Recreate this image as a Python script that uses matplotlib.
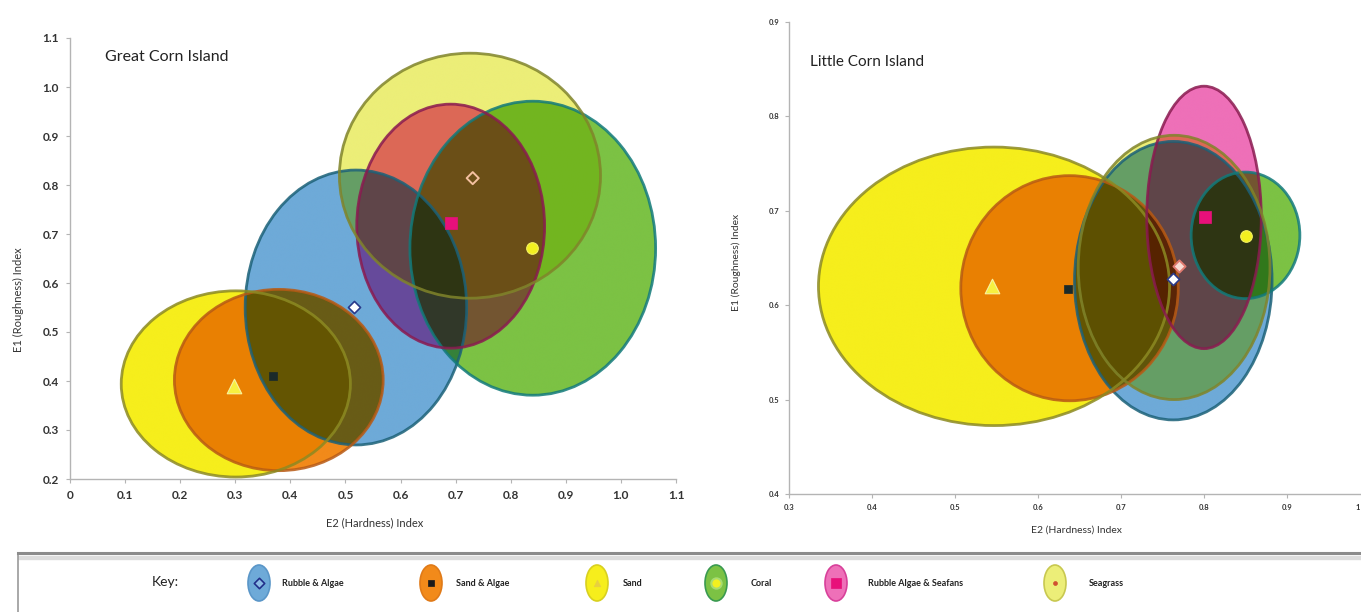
import numpy as np
import matplotlib
matplotlib.use("Agg")
import matplotlib.pyplot as plt
from matplotlib.patches import Ellipse, Rectangle
from matplotlib.colors import to_rgb

plt.rcParams["font.family"] = ["Lato", "DejaVu Sans"]

habitats = ["Rubble & Algae", "Sand & Algae", "Sand", "Coral",
            "Rubble Algae & Seafans", "Seagrass"]

# Great Corn Island: habitat centroids (E2, E1) and ellipse centre / size
great_pt_e2 = [0.515, 0.369, 0.298, 0.839, 0.691, 0.731]
great_pt_e1 = [0.551, 0.410, 0.390, 0.671, 0.722, 0.814]
great_cx = [0.519, 0.379, 0.301, 0.840, 0.691, 0.726]
great_cy = [0.550, 0.402, 0.394, 0.671, 0.716, 0.819]
great_w = [0.402, 0.379, 0.416, 0.446, 0.341, 0.474]
great_h = [0.561, 0.370, 0.380, 0.600, 0.498, 0.500]

# Little Corn Island
little_pt_e2 = [0.763, 0.636, 0.544, 0.850, 0.801, 0.770]
little_pt_e1 = [0.628, 0.617, 0.620, 0.673, 0.693, 0.641]
little_cx = [0.763, 0.638, 0.547, 0.850, 0.800, 0.764]
little_cy = [0.626, 0.618, 0.620, 0.674, 0.693, 0.640]
little_w = [0.238, 0.262, 0.423, 0.131, 0.138, 0.231]
little_h = [0.295, 0.2385, 0.295, 0.134, 0.278, 0.280]

great_xticks = [0, 0.1, 0.2, 0.3, 0.4, 0.5, 0.6, 0.7, 0.8, 0.9, 1.0, 1.1]
great_xticklabels = ["0", "0.1", "0.2", "0.3", "0.4", "0.5", "0.6", "0.7",
                     "0.8", "0.9", "1.0", "1.1"]
great_yticks = [0.2, 0.3, 0.4, 0.5, 0.6, 0.7, 0.8, 0.9, 1.0, 1.1]
great_yticklabels = ["0.2", "0.3", "0.4", "0.5", "0.6", "0.7", "0.8", "0.9",
                     "1.0", "1.1"]
little_xticks = [0.3, 0.4, 0.5, 0.6, 0.7, 0.8, 0.9, 1.0]
little_xticklabels = ["0.3", "0.4", "0.5", "0.6", "0.7", "0.8", "0.9", "1"]
little_yticks = [0.4, 0.5, 0.6, 0.7, 0.8, 0.9]
little_yticklabels = ["0.4", "0.5", "0.6", "0.7", "0.8", "0.9"]

fill_colors = ["#6eaad8", "#f28a1a", "#f6ee1c", "#7cc244", "#ee70b8", "#ecee78"]
edge_colors = ["#1b6178", "#b85a14", "#8c8a22", "#127a7a", "#8a1a50", "#80842a"]
key_edge_colors = ["#5a96c8", "#e07a18", "#d8d020", "#3a9a50", "#d8409a", "#c8c850"]

marker_style = [
    dict(marker="D", s=38, facecolor="white", edgecolor="#2a3a8a", linewidths=1.2),
    dict(marker="s", s=30, facecolor="#1a2a2a", edgecolor="#1a2a2a", linewidths=0.5),
    dict(marker="^", s=110, facecolor="#f7f040", edgecolor="#f7f3a0", linewidths=0.8),
    dict(marker="o", s=70, facecolor="#f2f020", edgecolor="#f2f060", linewidths=0.8),
    dict(marker="s", s=70, facecolor="#e8107a", edgecolor="#e8107a", linewidths=0.5),
    dict(marker="D", s=38, facecolor="none", edgecolor="#f4c0a0", linewidths=1.4),
]

W, H = 1361, 612
fig = plt.figure(figsize=(W / 100, H / 100), dpi=100)


def px_box(left, top, right, bottom):
    return [left / W, 1 - bottom / H, (right - left) / W, (bottom - top) / H]


def draw_panel(ax, xlim, ylim, cx, cy, w, h, pt_x, pt_y, seagrass_face):
    # overlapping ellipses blend like translucent film (multiplicative)
    nx, ny = 1600, 1100
    xs = np.linspace(xlim[0], xlim[1], nx)
    ys = np.linspace(ylim[0], ylim[1], ny)
    X, Y = np.meshgrid(xs, ys)
    rgb = np.ones((ny, nx, 3))
    for x0, y0, ww, hh, c in zip(cx, cy, w, h, fill_colors):
        inside = ((X - x0) / (ww / 2)) ** 2 + ((Y - y0) / (hh / 2)) ** 2 <= 1
        rgb[inside] *= np.array(to_rgb(c))
    ax.imshow(rgb, extent=(xlim[0], xlim[1], ylim[0], ylim[1]), origin="lower",
              aspect="auto", interpolation="antialiased", zorder=1)
    for x0, y0, ww, hh, ec in zip(cx, cy, w, h, edge_colors):
        ax.add_patch(Ellipse((x0, y0), ww, hh, fill=False, edgecolor=ec,
                             linewidth=2.0, alpha=0.85, zorder=3))
    for i, (px_, py_) in enumerate(zip(pt_x, pt_y)):
        st = dict(marker_style[i])
        if i == 5 and seagrass_face is not None:
            st["facecolor"] = seagrass_face
            st["edgecolor"] = "#e07a70"
        ax.scatter([px_], [py_], zorder=5, **st)
    ax.set_xlim(*xlim)
    ax.set_ylim(*ylim)
    for side in ("top", "right"):
        ax.spines[side].set_visible(False)
    for side in ("left", "bottom"):
        ax.spines[side].set_color("#b4b4b4")
        ax.spines[side].set_linewidth(1.0)
    ax.tick_params(colors="#b4b4b4", length=3, width=0.8, labelcolor="#333333")
    ax.patch.set_alpha(0)


ax_l = fig.add_axes(px_box(70, 38, 676, 479))
draw_panel(ax_l, (0, 1.1), (0.2, 1.1), great_cx, great_cy, great_w, great_h,
           great_pt_e2, great_pt_e1, None)
ax_l.set_xticks(great_xticks, great_xticklabels, fontsize=8.5, fontweight="bold")
ax_l.set_yticks(great_yticks, great_yticklabels, fontsize=8.5, fontweight="bold")
ax_l.tick_params(axis="x", pad=5)
ax_l.tick_params(axis="y", pad=5)

ax_r = fig.add_axes(px_box(789, 22, 789 + 7 * 83, 494))
draw_panel(ax_r, (0.3, 1.0), (0.4, 0.9), little_cx, little_cy, little_w, little_h,
           little_pt_e2, little_pt_e1, "#f8dcd4")
# the last tick falls just past the figure's edge, so its label is set
# separately at the edge
ax_r.set_xticks(little_xticks, little_xticklabels[:-1] + [""], fontsize=5.5,
                fontweight="bold")
ax_r.set_yticks(little_yticks, little_yticklabels, fontsize=5.5, fontweight="bold")
ax_r.tick_params(axis="x", pad=4)
ax_r.tick_params(axis="y", pad=4)
fig.text((W - 1) / W, 1 - 507 / H, little_xticklabels[-1], fontsize=5.5,
         fontweight="bold", ha="right", va="center", color="#333333")

# panel titles and axis titles
fig.text(105 / W, 1 - 57 / H, "Great Corn Island", fontsize=11.5,
         ha="left", va="center", color="#222222")
fig.text(810 / W, 1 - 62 / H, "Little Corn Island", fontsize=11,
         ha="left", va="center", color="#222222")
fig.text(375 / W, 1 - 523 / H, "E2 (Hardness) Index", fontsize=8,
         ha="center", va="center", color="#333333")
fig.text(18 / W, 1 - 300 / H, "E1 (Roughness) Index", fontsize=8,
         ha="center", va="center", rotation=90, color="#333333")
fig.text(1076 / W, 1 - 530 / H, "E2 (Hardness) Index", fontsize=7.5,
         ha="center", va="center", color="#333333")
fig.text(736 / W, 1 - 262 / H, "E1 (Roughness) Index", fontsize=7.5,
         ha="center", va="center", rotation=90, color="#333333")

# key strip along the bottom
ax_k = fig.add_axes(px_box(18, 553, W, H))
ax_k.set_xlim(18, W)
ax_k.set_ylim(H, 553)
ax_k.set_xticks([])
ax_k.set_yticks([])
for side in ("right", "bottom"):
    ax_k.spines[side].set_visible(False)
ax_k.spines["top"].set_color("#8c8c8c")
ax_k.spines["top"].set_linewidth(2.2)
ax_k.spines["left"].set_color("#9a9a9a")
ax_k.spines["left"].set_linewidth(1.2)
ax_k.add_patch(Rectangle((18, 555.5), W - 18, 3, color="#dddddd", zorder=0))

ax_k.text(165, 582, "Key:", fontsize=10, ha="center", va="center", color="#222222")
icon_x = [259, 431, 597, 716, 836, 1055]
text_x = [282, 456, 623, 751, 868, 1089]
legend_markers = [
    dict(marker="D", s=28, facecolor="#8cbce4", edgecolor="#22308a", linewidths=1.2),
    dict(marker="s", s=22, facecolor="#1a1a1a", edgecolor="#1a1a1a", linewidths=0.5),
    dict(marker="^", s=22, facecolor="#e8d040", edgecolor="#e8d040", linewidths=0.5),
    dict(marker="o", s=55, facecolor="#f2f020", edgecolor="#a8dc70", linewidths=1.5),
    dict(marker="s", s=45, facecolor="#e8107a", edgecolor="#e8107a", linewidths=0.5),
    dict(marker="o", s=8, facecolor="#d05030", edgecolor="#d05030", linewidths=0.5),
]
for i, name in enumerate(habitats):
    ax_k.add_patch(Ellipse((icon_x[i], 583), 22, 36, facecolor=fill_colors[i],
                           edgecolor=key_edge_colors[i], linewidth=1.2,
                           zorder=2))
    ax_k.scatter([icon_x[i]], [583], zorder=4, **legend_markers[i])
    ax_k.text(text_x[i], 583, name, fontsize=6.5, ha="left", va="center",
              color="#222222", fontweight="bold")

fig.savefig("out.png", dpi=100)
